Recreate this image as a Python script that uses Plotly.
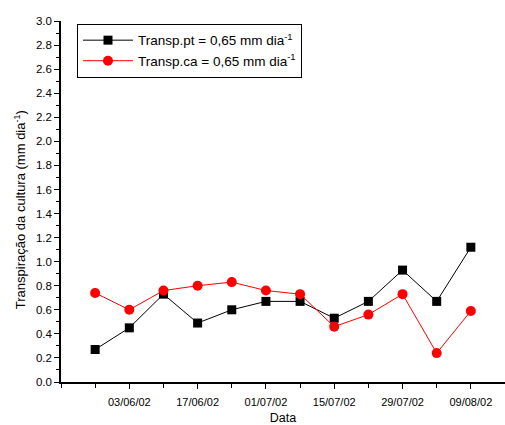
import plotly.graph_objects as go

x_idx = list(range(12))
transp_pt = [0.27, 0.45, 0.73, 0.49, 0.60, 0.67, 0.67, 0.53, 0.67, 0.93, 0.67, 1.12]
transp_ca = [0.74, 0.60, 0.76, 0.80, 0.83, 0.76, 0.73, 0.46, 0.56, 0.73, 0.24, 0.59]
tick_pos = [1, 3, 5, 7, 9, 11]
tick_labels = ["03/06/02", "17/06/02", "01/07/02", "15/07/02", "29/07/02", "09/08/02"]
minor_pos = [-1, 0, 2, 4, 6, 8, 10]

font = "Liberation Sans, Arial, sans-serif"

fig = go.Figure()
fig.add_trace(go.Scatter(
    x=x_idx, y=transp_pt, mode="lines+markers",
    name="Transp.pt = 0,65 mm dia<sup>-1</sup>",
    line=dict(color="black", width=1),
    marker=dict(symbol="square", size=9, color="black"),
))
fig.add_trace(go.Scatter(
    x=x_idx, y=transp_ca, mode="lines+markers",
    name="Transp.ca = 0,65 mm dia<sup>-1</sup>",
    line=dict(color="#ff0000", width=1),
    marker=dict(symbol="circle", size=10, color="#ff0000"),
))

fig.update_layout(
    width=505, height=425,
    margin=dict(l=61, r=0, t=21, b=43, autoexpand=False),
    paper_bgcolor="white", plot_bgcolor="white",
    font=dict(family=font, size=11, color="black"),
    showlegend=True,
    legend=dict(
        x=0.036, y=0.992, xanchor="left", yanchor="top",
        bordercolor="black", borderwidth=1, bgcolor="white",
        font=dict(size=13.5, family=font),
        itemwidth=50, tracegroupgap=0,
    ),
    xaxis=dict(
        range=[-1, 12], showgrid=False, zeroline=False, automargin=False,
        showline=True, linecolor="black", linewidth=1.5,
        tickmode="array", tickvals=tick_pos, ticktext=tick_labels,
        ticks="outside", ticklen=5, tickwidth=1, tickcolor="black",
        ticklabelstandoff=4,
        minor=dict(tickmode="array", tickvals=minor_pos, ticks="outside", ticklen=4, tickwidth=1, tickcolor="black"),
        tickfont=dict(size=11, family=font),
        title=dict(text="Data", font=dict(size=12.5, family=font), standoff=12),
    ),
    yaxis=dict(
        range=[0, 3.0], showgrid=False, zeroline=False, automargin=False,
        showline=True, linecolor="black", linewidth=1.5,
        tickmode="linear", tick0=0, dtick=0.2, tickformat=".1f",
        ticks="outside", ticklen=5, tickwidth=1, tickcolor="black",
        minor=dict(dtick=0.1, ticks="outside", ticklen=3, tickwidth=1, tickcolor="black"),
        tickfont=dict(size=11.5, family=font),
    ),
    annotations=[dict(
        text="Transpiração da cultura (mm dia<sup>-1</sup>)",
        xref="paper", yref="paper", x=0, y=0.476, xshift=-41,
        xanchor="center", yanchor="middle", textangle=-90, showarrow=False,
        font=dict(size=13, family=font, color="black"),
    )],
)

fig.write_html("out.html", config={"displayModeBar": False},
               post_script="document.body.style.margin='0';document.body.style.overflow='hidden';")
